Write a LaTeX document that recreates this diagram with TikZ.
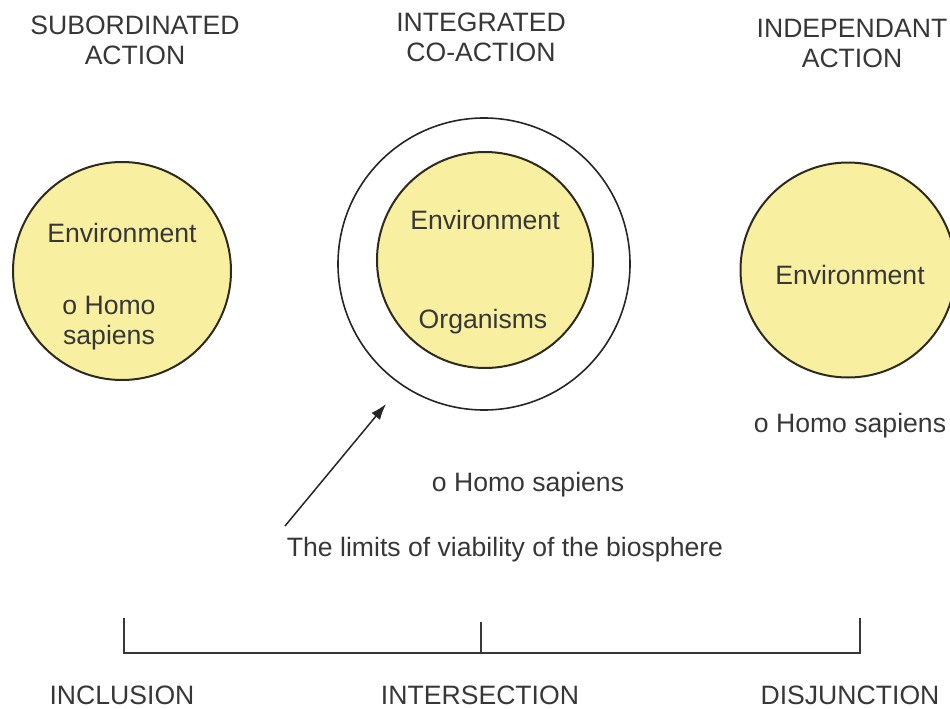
\documentclass[tikz,border=0pt]{standalone}
\usepackage{fontspec}
\setmainfont{Liberation Sans}
\usetikzlibrary{arrows.meta}
\definecolor{disc}{RGB}{248,240,160}
\definecolor{ink}{RGB}{55,55,55}
\definecolor{rim}{RGB}{45,42,30}
\tikzset{
  lbl/.style={font=\fontsize{26.6}{30}\selectfont, text=ink, inner sep=0pt, align=center},
  yellowdisc/.style={circle, draw=rim, line width=2pt, fill=disc, inner sep=0pt},
  ring/.style={circle, draw=black!85, line width=1.6pt, inner sep=0pt},
  bracket/.style={draw=ink, line width=2.2pt},
  pointer/.style={draw=black!85, line width=1.5pt, -{Latex[length=16pt,width=11pt]}}
}
\begin{document}
\begin{tikzpicture}[x=1pt,y=-1pt]
\useasboundingbox (0,0) rectangle (950,709);
% headers
\node[lbl] (h1) at (135,40) {SUBORDINATED\\ACTION};
\node[lbl] (h2) at (481,37.5) {INTEGRATED\\CO-ACTION};
\node[lbl] (h3) at (852,43) {INDEPENDANT\\ACTION};
% left circle
\node[yellowdisc, minimum size=218pt] (c1) at (122,271) {};
\node[lbl] (e1) at (122,233) {Environment};
\node[lbl] (hs1) at (109,323) {o Homo\\sapiens};
% middle circles
\node[ring, minimum size=292pt] (ring) at (484,264) {};
\node[yellowdisc, minimum size=216pt] (c2) at (485,260) {};
\node[lbl] (e2) at (485,220) {Environment};
\node[lbl] (org) at (483,322) {Organisms};
% right circle
\node[yellowdisc, minimum size=215pt] (c3) at (848,270) {};
\node[lbl] (e3) at (850,275) {Environment};
\node[lbl] (hs3) at (850,426) {o Homo sapiens};
% middle texts
\node[lbl] (hs2) at (528,485) {o Homo sapiens};
\node[lbl] (lim) at (505,550) {The limits of viability of the biosphere};
\coordinate (astart) at (285,526);
\coordinate (atip) at (386,404);
\draw[pointer] (astart) -- (atip);
% bracket
\coordinate (bl) at (124,653);
\coordinate (bm) at (481,653);
\coordinate (br) at (860,653);
\coordinate (tl) at (124,618);
\coordinate (tm) at (481,622);
\coordinate (tr) at (860,618);
\draw[bracket, line join=miter] (tl) -- (bl) -- (br) -- (tr);
\draw[bracket] (tm) -- (bm);
% bottom labels
\node[lbl] (inc) at (122,695) {INCLUSION};
\node[lbl] (int) at (480,695) {INTERSECTION};
\node[lbl] (dis) at (850,695) {DISJUNCTION};
\end{tikzpicture}
\end{document}
